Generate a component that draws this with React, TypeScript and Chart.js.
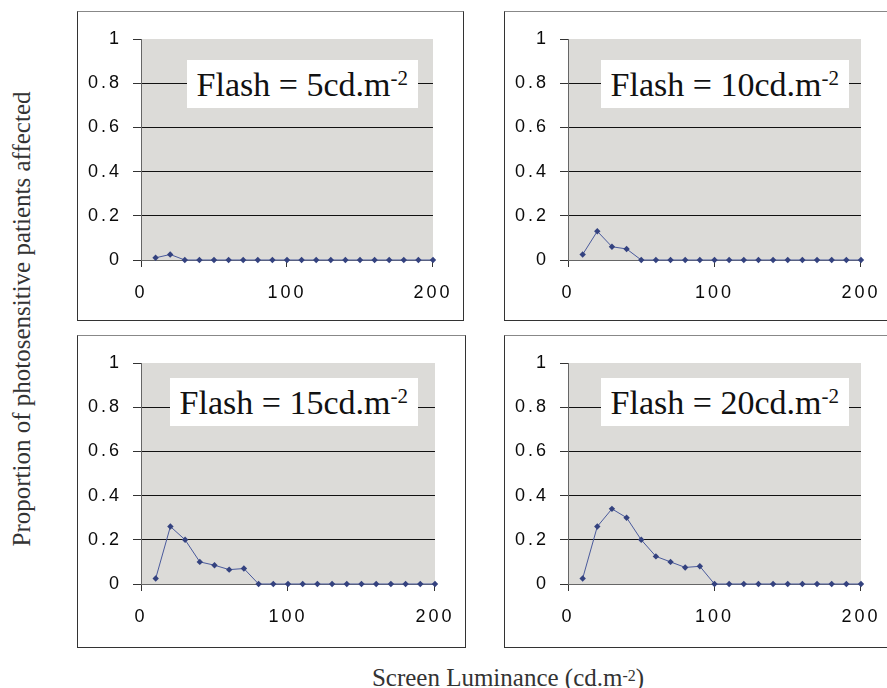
import React, { useEffect, useRef } from "react";
import { Chart, registerables } from "chart.js";

Chart.register(...registerables);

// Screen luminance (cd.m-2)
const luminance = [10, 20, 30, 40, 50, 60, 70, 80, 90, 100, 110, 120, 130, 140, 150, 160, 170, 180, 190, 200];

// Proportion of photosensitive patients affected
const flash5 = [0.01, 0.025, 0, 0, 0, 0, 0, 0, 0, 0, 0, 0, 0, 0, 0, 0, 0, 0, 0, 0];
const flash10 = [0.025, 0.13, 0.06, 0.05, 0, 0, 0, 0, 0, 0, 0, 0, 0, 0, 0, 0, 0, 0, 0, 0];
const flash15 = [0.025, 0.26, 0.2, 0.1, 0.085, 0.065, 0.07, 0, 0, 0, 0, 0, 0, 0, 0, 0, 0, 0, 0, 0];
const flash20 = [0.025, 0.26, 0.34, 0.3, 0.2, 0.125, 0.1, 0.075, 0.08, 0, 0, 0, 0, 0, 0, 0, 0, 0, 0, 0];

const panelTitles = ["Flash = 5cd.m", "Flash = 10cd.m", "Flash = 15cd.m", "Flash = 20cd.m"];
const panelSeries = [flash5, flash10, flash15, flash20];

const yTicks = [0, 0.2, 0.4, 0.6, 0.8, 1];
const xTicks = [0, 100, 200];

type Rect = { l: number; t: number; r: number; b: number };

const layouts: { box: Rect; plot: Rect; label: { r: number; t: number } }[] = [
  { box: { l: 77, t: 11, r: 464, b: 321 }, plot: { l: 141, t: 39, r: 436, b: 260 }, label: { r: 418, t: 60 } },
  { box: { l: 504, t: 11, r: 892, b: 321 }, plot: { l: 568, t: 39, r: 862, b: 260 }, label: { r: 849, t: 60 } },
  { box: { l: 77, t: 335, r: 466, b: 648 }, plot: { l: 141, t: 363, r: 436, b: 584 }, label: { r: 418, t: 378 } },
  { box: { l: 504, t: 335, r: 892, b: 648 }, plot: { l: 568, t: 363, r: 862, b: 584 }, label: { r: 849, t: 378 } },
];

const plotBg = {
  id: "plotBg",
  beforeDraw(chart: any) {
    const { ctx, chartArea } = chart;
    ctx.letterSpacing = "3px";
    ctx.save();
    ctx.fillStyle = "#dcdbd8";
    ctx.fillRect(chartArea.left, chartArea.top, chartArea.right - chartArea.left, chartArea.bottom - chartArea.top);
    ctx.restore();
  },
};

const tickFont = { family: "Liberation Sans, Arial", size: 18, weight: "normal" as const };

function Panel({ idx }: { idx: number }) {
  const ref = useRef<HTMLCanvasElement>(null);
  const { box, plot, label } = layouts[idx];
  const cw = box.r - box.l - 2;
  const ch = box.b - box.t - 2;
  const cl = box.l + 1;
  const ct = box.t + 1;

  useEffect(() => {
    if (!ref.current) return;
    const yW = plot.l - cl;
    const xH = ct + ch - plot.b;
    const chart = new Chart(ref.current, {
      type: "line",
      data: {
        datasets: [
          {
            data: luminance.map((x, i) => ({ x, y: panelSeries[idx][i] })),
            borderColor: "#4a5a9c",
            backgroundColor: "#34427f",
            borderWidth: 1,
            pointStyle: "rectRot",
            pointRadius: 3.2,
            pointBorderWidth: 0,
            tension: 0,
            clip: false as any,
          },
        ],
      },
      options: {
        animation: false,
        responsive: false,
        events: [],
        layout: { padding: { top: plot.t - ct, right: cl + cw - plot.r, left: 0, bottom: 0 } },
        plugins: { legend: { display: false }, tooltip: { enabled: false } },
        scales: {
          x: {
            type: "linear",
            min: 0,
            max: 200,
            afterFit: (s: any) => {
              s.height = xH;
            },
            afterBuildTicks: (s: any) => {
              s.ticks = xTicks.map((v) => ({ value: v }));
            },
            ticks: { color: "#0a0a0a", font: tickFont, padding: 15, maxRotation: 0, callback: (v: any) => String(v) },
            grid: { drawOnChartArea: false, tickLength: 7, tickColor: "#333", tickWidth: 1 },
            border: { display: true, color: "#666", width: 1 },
          },
          y: {
            type: "linear",
            min: 0,
            max: 1,
            afterFit: (s: any) => {
              s.width = yW;
            },
            afterBuildTicks: (s: any) => {
              s.ticks = yTicks.map((v) => ({ value: v }));
            },
            ticks: { color: "#0a0a0a", font: tickFont, padding: 11, callback: (v: any) => String(v) },
            grid: {
              color: (c: any) => (c.tick && (c.tick.value === 0 || c.tick.value === 1) ? "rgba(0,0,0,0)" : "#111"),
              tickColor: "#333",
              tickLength: 8,
              lineWidth: 1,
            },
            border: { display: true, color: "#666", width: 1 },
          },
        },
      },
      plugins: [plotBg],
    });
    return () => chart.destroy();
  }, [idx]);

  return (
    <>
      <div
        style={{
          position: "absolute",
          left: box.l,
          top: box.t,
          width: box.r - box.l - 2,
          height: box.b - box.t - 2,
          border: "1px solid #333",
          borderTopColor: "#888",
          background: "#fff",
        }}
      >
        <canvas ref={ref} width={cw} height={ch} style={{ display: "block", width: cw, height: ch }} />
      </div>
      <div
        style={{
          position: "absolute",
          right: 887 - label.r,
          top: label.t,
          height: 48,
          lineHeight: "50px",
          padding: "0 10px",
          background: "#fff",
          fontFamily: "Liberation Serif, Times New Roman, serif",
          fontSize: 34,
          color: "#111",
          whiteSpace: "nowrap",
        }}
      >
        {panelTitles[idx]}
        <sup style={{ fontSize: 21, verticalAlign: "top", lineHeight: "36px" }}>-2</sup>
      </div>
    </>
  );
}

export default function App() {
  return (
    <div
      style={{
        position: "fixed",
        left: 0,
        top: 0,
        width: 887,
        height: 688,
        overflow: "hidden",
        background: "#fff",
      }}
    >
      {[0, 1, 2, 3].map((i) => (
        <Panel key={i} idx={i} />
      ))}
      <div
        style={{
          position: "absolute",
          left: 22,
          top: 319,
          transform: "translate(-50%, -50%) rotate(-90deg)",
          whiteSpace: "nowrap",
          fontFamily: "Liberation Serif, Times New Roman, serif",
          fontSize: 25,
          color: "#333",
        }}
      >
        Proportion of photosensitive patients affected
      </div>
      <div
        style={{
          position: "absolute",
          left: 508,
          top: 678,
          transform: "translate(-50%, -50%)",
          whiteSpace: "nowrap",
          fontFamily: "Liberation Serif, Times New Roman, serif",
          fontSize: 25,
          color: "#333",
        }}
      >
        Screen Luminance (cd.m<sup style={{ fontSize: 16, verticalAlign: "5px" }}>-2</sup>)
      </div>
    </div>
  );
}
